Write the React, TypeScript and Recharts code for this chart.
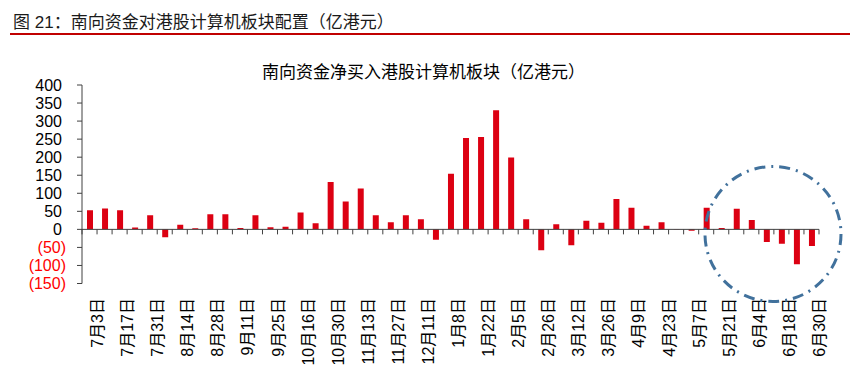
import React from 'react';
import { BarChart, Bar, XAxis, YAxis, ReferenceLine } from 'recharts';

// weekly net buying of HK computer stocks via southbound connect, HK$ 100m
const weeks = [
    '7月3日', '7月10日', '7月17日', '7月24日', '7月31日', '8月7日', '8月14日', '8月21日',
    '8月28日', '9月4日', '9月11日', '9月18日', '9月25日', '10月9日', '10月16日', '10月23日',
    '10月30日', '11月6日', '11月13日', '11月20日', '11月27日', '12月4日', '12月11日', '12月18日',
    '1月8日', '1月15日', '1月22日', '1月29日', '2月5日', '2月19日', '2月26日', '3月5日',
    '3月12日', '3月19日', '3月26日', '4月2日', '4月9日', '4月16日', '4月23日', '4月30日',
    '5月7日', '5月14日', '5月21日', '5月28日', '6月4日', '6月11日', '6月18日', '6月25日',
    '6月30日',
];

const netBuy = [
    53, 58, 53, 5, 39, -22, 13, 3,
    42, 42, 4, 39, 6, 7, 47, 17,
    131, 77, 113, 39, 20, 39, 28, -29,
    154, 253, 256, 330, 199, 28, -58, 14,
    -44, 24, 18, 84, 60, 10, 20, 1,
    -4, 60, 4, 57, 26, -35, -40, -97,
    -46,
];

const yTicks = [400, 350, 300, 250, 200, 150, 100, 50, 0, -50, -100, -150];

const W = 851;
const H = 379;
const PLOT_LEFT = 82;
const PLOT_RIGHT = 819;
const PLOT_TOP = 85;
const PLOT_BOTTOM = 283.5;
const Y_MIN = -150;
const Y_MAX = 400;
const zeroY = PLOT_TOP + (Y_MAX / (Y_MAX - Y_MIN)) * (PLOT_BOTTOM - PLOT_TOP);
const band = (PLOT_RIGHT - PLOT_LEFT) / weeks.length;

const FONT = '"Liberation Sans", Arial, "Noto Sans CJK SC", sans-serif';
const RED = '#DC0012';
const AXIS = '#404040';

const data = weeks.map((w, i) => ({ week: w, value: netBuy[i] }));

const WeekTick = (props: any) => {
    const { x, index, payload } = props;
    const lx = x + 8;
    const ly = PLOT_BOTTOM + 14.5;
    return (
        <g>
            <line x1={x - band / 2} x2={x - band / 2} y1={zeroY} y2={zeroY + 5} stroke={AXIS} />
            {index === weeks.length - 1 && (
                <line x1={x + band / 2} x2={x + band / 2} y1={zeroY} y2={zeroY + 5} stroke={AXIS} />
            )}
            {index % 2 === 0 && (
                <text
                    x={lx}
                    y={ly}
                    transform={`rotate(-90 ${lx} ${ly})`}
                    textAnchor="end"
                    dominantBaseline="central"
                    fontSize={16}
                    fontFamily={FONT}
                    fill="#000"
                >
                    {payload.value}
                </text>
            )}
        </g>
    );
};

const ValueTick = (props: any) => {
    const { x, y, payload } = props;
    const v = payload.value;
    const neg = v < 0;
    return (
        <text
            x={neg ? x : x - 4}
            y={y}
            textAnchor="end"
            dominantBaseline="central"
            fontSize={16}
            fontFamily={FONT}
            fill={neg ? '#FF0000' : '#000'}
        >
            {neg ? `(${-v})` : v}
        </text>
    );
};

export default function App() {
    return (
        <div style={{ position: 'absolute', left: 0, top: 0, width: W, height: H, background: '#fff' }}>
            <BarChart
                width={W}
                height={H}
                data={data}
                margin={{ top: PLOT_TOP, right: W - PLOT_RIGHT, bottom: 0, left: 0 }}
                barCategoryGap={0}
            >
                <XAxis
                    dataKey="week"
                    interval={0}
                    height={H - PLOT_BOTTOM}
                    axisLine={false}
                    tickLine={false}
                    tick={<WeekTick />}
                />
                <YAxis
                    width={PLOT_LEFT}
                    domain={[Y_MIN, Y_MAX]}
                    ticks={yTicks}
                    interval={0}
                    allowDataOverflow
                    stroke={AXIS}
                    tickSize={5}
                    tickMargin={11}
                    tick={<ValueTick />}
                />
                <Bar dataKey="value" fill={RED} barSize={6} isAnimationActive={false} />
                <ReferenceLine y={0} stroke={AXIS} />
            </BarChart>
            <svg
                width={W}
                height={H}
                style={{ position: 'absolute', left: 0, top: 0, pointerEvents: 'none' }}
            >
                <text x={13} y={27.5} fontSize={17} fontFamily={FONT} fill="#1a1a1a">
                    图 21：南向资金对港股计算机板块配置（亿港元）
                </text>
                <line x1={10} x2={850} y1={34} y2={34} stroke="#C00000" strokeWidth={2} />
                <text x={423.5} y={77.5} fontSize={17} fontFamily={FONT} fill="#000" textAnchor="middle">
                    南向资金净买入港股计算机板块（亿港元）
                </text>
                <ellipse
                    cx={773}
                    cy={234}
                    rx={68}
                    ry={67.5}
                    fill="none"
                    stroke="#41719C"
                    strokeWidth={3}
                    strokeDasharray="11 6 2 6"
                />
            </svg>
        </div>
    );
}
